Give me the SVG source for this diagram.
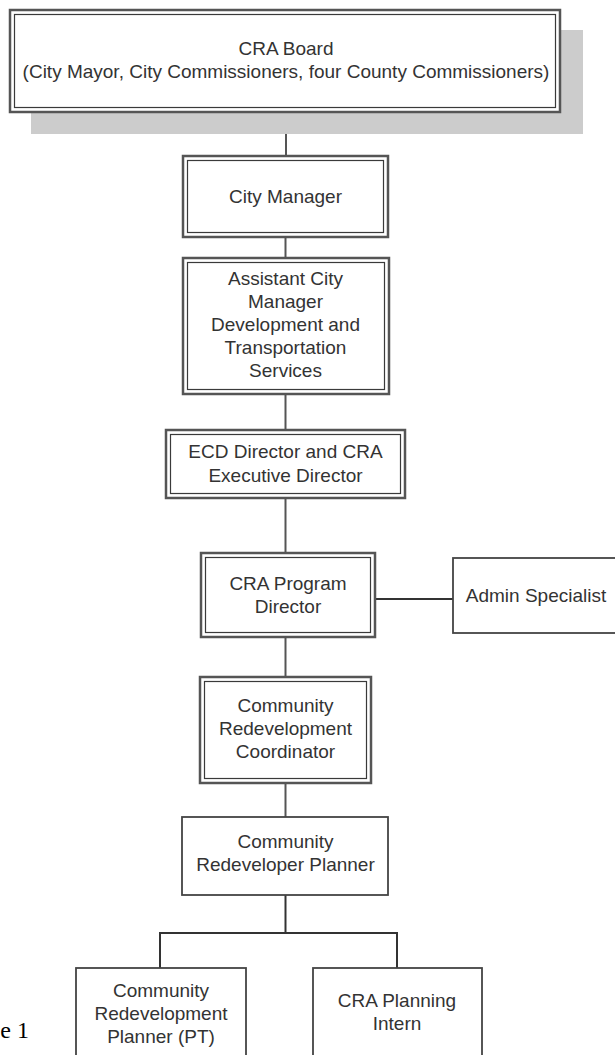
<svg xmlns="http://www.w3.org/2000/svg" width="615" height="1055" viewBox="0 0 615 1055">
<style>
.t{font-family:"Liberation Sans",Arial,sans-serif;font-size:19px;fill:#333;text-anchor:middle}
.o{fill:#fff;stroke:#555;stroke-width:2.5}
.i{fill:none;stroke:#3a3a3a;stroke-width:1.2}
.s{fill:#fff;stroke:#444;stroke-width:1.8}
.c{stroke:#555;stroke-width:2;fill:none}
.c2{stroke:#333;stroke-width:2;fill:none}
</style>
<rect width="615" height="1055" fill="#fff"/>
<g id="connectors">
<line class="c" x1="286" y1="112" x2="286" y2="156"/>
<line class="c" x1="285.5" y1="237" x2="285.5" y2="258"/>
<line class="c" x1="285.5" y1="394" x2="285.5" y2="430"/>
<line class="c" x1="285.5" y1="498" x2="285.5" y2="553"/>
<line class="c" x1="285.5" y1="637" x2="285.5" y2="677"/>
<line class="c" x1="285.5" y1="783" x2="285.5" y2="817"/>
<line class="c2" x1="376" y1="599" x2="453" y2="599"/>
<line class="c2" x1="285.5" y1="895" x2="285.5" y2="933"/>
<polyline class="c2" points="160,968 160,933 397,933 397,968"/>
</g>
<g id="cra-board">
<rect x="31" y="30" width="552" height="104" fill="#cccccc"/>
<rect class="o" x="10" y="10" width="550" height="102"/>
<rect class="i" x="14.5" y="14.5" width="541" height="93"/>
<text class="t" x="286" y="55">CRA Board</text>
<text class="t" x="286" y="78">(City Mayor, City Commissioners, four County Commissioners)</text>
</g>
<g id="city-manager">
<rect class="o" x="183" y="156" width="205" height="81"/>
<rect class="i" x="187.5" y="160.5" width="196" height="72"/>
<text class="t" x="285.5" y="203">City Manager</text>
</g>
<g id="assistant-city-manager">
<rect class="o" x="183" y="258" width="206" height="136"/>
<rect class="i" x="187.5" y="262.5" width="197" height="127"/>
<text class="t" x="285.5" y="285">Assistant City</text>
<text class="t" x="285.5" y="308">Manager</text>
<text class="t" x="285.5" y="331">Development and</text>
<text class="t" x="285.5" y="354">Transportation</text>
<text class="t" x="285.5" y="377">Services</text>
</g>
<g id="ecd-director">
<rect class="o" x="166" y="430" width="239" height="68"/>
<rect class="i" x="170.5" y="434.5" width="230" height="59"/>
<text class="t" x="285.5" y="458">ECD Director and CRA</text>
<text class="t" x="285.5" y="482">Executive Director</text>
</g>
<g id="cra-program-director">
<rect class="o" x="201" y="553" width="174" height="84"/>
<rect class="i" x="205.5" y="557.5" width="165" height="75"/>
<text class="t" x="288" y="590">CRA Program</text>
<text class="t" x="288" y="613">Director</text>
</g>
<g id="admin-specialist">
<rect class="s" x="453" y="558" width="170" height="75"/>
<text class="t" x="536" y="602">Admin Specialist</text>
</g>
<g id="community-redevelopment-coordinator">
<rect class="o" x="200" y="677" width="171" height="106"/>
<rect class="i" x="204.5" y="681.5" width="162" height="97"/>
<text class="t" x="285.5" y="712">Community</text>
<text class="t" x="285.5" y="735">Redevelopment</text>
<text class="t" x="285.5" y="758">Coordinator</text>
</g>
<g id="community-redeveloper-planner">
<rect class="s" x="182" y="817" width="206" height="78"/>
<text class="t" x="285.5" y="848">Community</text>
<text class="t" x="285.5" y="871">Redeveloper Planner</text>
</g>
<g id="community-redevelopment-planner-pt">
<rect class="s" x="76" y="968" width="170" height="100"/>
<text class="t" x="161" y="997">Community</text>
<text class="t" x="161" y="1020">Redevelopment</text>
<text class="t" x="161" y="1043">Planner (PT)</text>
</g>
<g id="cra-planning-intern">
<rect class="s" x="313" y="968" width="169" height="100"/>
<text class="t" x="397" y="1007">CRA Planning</text>
<text class="t" x="397" y="1030">Intern</text>
</g>
<text x="29" y="1038" font-family="'Liberation Serif','Times New Roman',serif" font-size="24" fill="#000" text-anchor="end">e 1</text>
</svg>
